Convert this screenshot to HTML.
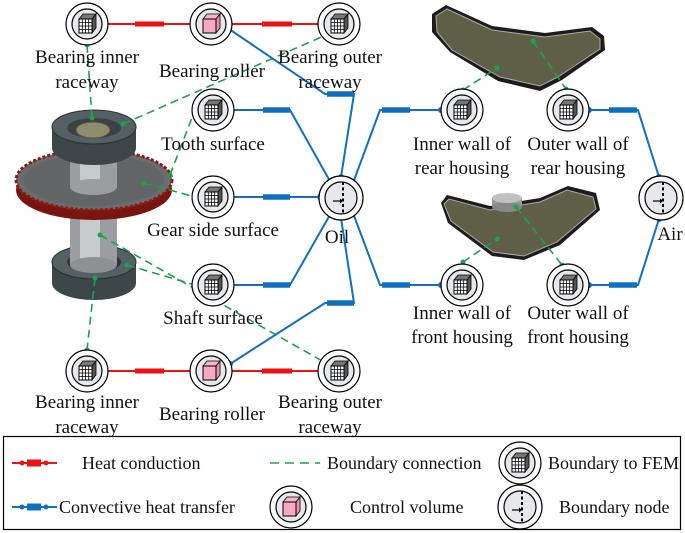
<!DOCTYPE html>
<html><head><meta charset="utf-8"><style>
body{margin:0;background:#fff;}
svg{display:block;}
text{font-family:"Liberation Serif",serif;font-size:19px;fill:#111;}
.lg text{font-size:18px;}
</style></head><body>
<svg width="685" height="533" viewBox="0 0 685 533" xmlns="http://www.w3.org/2000/svg">
<defs>
<g id="fem">
  <circle r="21" fill="#fff" stroke="#000" stroke-width="1.2"/>
  <circle r="15" fill="#e6e9ec" stroke="#000" stroke-width="1.2"/>
  <polygon points="-8,-5 -4,-10 9,-10 5,-5" fill="#777" stroke="#000" stroke-width="0.8"/>
  <polygon points="5,-5 9,-10 9,4 5,9" fill="#555" stroke="#000" stroke-width="0.8"/>
  <rect x="-8" y="-5" width="13" height="14" fill="#fff" stroke="#000" stroke-width="1"/>
  <path d="M-8,-1.5H5M-8,2H5M-8,5.5H5M-4.7,-5V9M-1.5,-5V9M1.7,-5V9" stroke="#000" stroke-width="0.8"/>
</g>
<g id="cv">
  <circle r="21" fill="#fff" stroke="#000" stroke-width="1.2"/>
  <circle r="15" fill="#e6e9ec" stroke="#000" stroke-width="1.2"/>
  <polygon points="-8,-5 -4,-10 9,-10 5,-5" fill="#f4b8c8" stroke="#000" stroke-width="0.8"/>
  <polygon points="5,-5 9,-10 9,4 5,9" fill="#e890a8" stroke="#000" stroke-width="0.8"/>
  <rect x="-8" y="-5" width="13" height="14" fill="#f6a9bf" stroke="#000" stroke-width="1"/>
</g>
<g id="bn">
  <circle r="22" fill="#fff" stroke="#000" stroke-width="1.2"/>
  <circle r="16" fill="#e6e9ec" stroke="#000" stroke-width="1.2"/>
  <line x1="2" y1="-16" x2="2" y2="16" stroke="#000" stroke-width="2" stroke-dasharray="3,2.5"/>
  <line x1="-8" y1="3" x2="-1" y2="3" stroke="#000" stroke-width="1.2"/>
  <polygon points="-1,0.5 2,3 -1,5.5" fill="#000"/>
</g>
</defs>

<!-- gear assembly -->
<g>
  <path d="M52,262 V283 A42,17 0 0 0 136,283 V262 Z" fill="#3d4648"/>
  <ellipse cx="94" cy="262" rx="42" ry="17" fill="#556064" stroke="#2a3133"/>
  <ellipse cx="94" cy="262" rx="27" ry="10" fill="#2e3537"/>
  <rect x="70" y="200" width="47" height="65" fill="#9a9ea0"/>
  <rect x="80" y="200" width="20" height="65" fill="#c8cbcc"/>
  <ellipse cx="93.5" cy="265" rx="23.5" ry="8" fill="#8d9193"/>
  <ellipse cx="94" cy="190" rx="78" ry="30" fill="#7a1410"/>
  <ellipse cx="94" cy="180" rx="78" ry="30" fill="#6a6d6e" stroke="#8b1a14" stroke-width="3" stroke-dasharray="3,2"/>
  <ellipse cx="94" cy="180" rx="70" ry="26" fill="#636667"/>
  <rect x="70" y="145" width="47" height="42" fill="#9a9ea0"/>
  <rect x="80" y="145" width="20" height="42" fill="#c8cbcc"/>
  <ellipse cx="93.5" cy="187" rx="23.5" ry="8" fill="#9a9ea0"/>
  <path d="M52,127 V148 A42,17 0 0 0 136,148 V127 Z" fill="#3d4648"/>
  <ellipse cx="94" cy="127" rx="42" ry="17" fill="#556064" stroke="#2a3133"/>
  <ellipse cx="94" cy="128" rx="27" ry="10" fill="#3a4244"/>
  <ellipse cx="93" cy="130" rx="17" ry="8" fill="#8e8c6c" stroke="#565438"/>
</g>

<!-- housings -->
<path d="M432,14 L446,5 L492,26 L545,33 L592,27 L604,36 L605,50 L562,80 L540,91 L498,81 L450,52 L432,32 Z" fill="#1c1c1c"/>
<path d="M436,16 L447,9 L492,30 L545,37 L590,31 L600,39 L600,49 L558,77 L540,86 L500,77 L452,50 L437,32 Z" fill="#5f5f47" stroke="#aaa" stroke-width="1"/>
<path d="M441,203 L447,195 L490,206 L540,198 L568,186 L596,193 L600,210 L560,245 L524,260 L492,256 L448,223 Z" fill="#1c1c1c"/>
<path d="M444,204 L449,199 L490,210 L540,202 L567,190 L593,197 L596,209 L557,242 L524,256 L493,252 L451,221 Z" fill="#5f5f47" stroke="#aaa" stroke-width="1"/>
<rect x="492" y="198" width="30" height="9" fill="#999"/>
<ellipse cx="507" cy="207" rx="15" ry="5" fill="#888"/>
<ellipse cx="507" cy="198" rx="15" ry="5" fill="#c0c0c0"/>

<!-- green boundary connections -->
<g stroke="#1aa34a" stroke-width="1.6" stroke-dasharray="8,5" fill="none">
  <line x1="87" y1="45" x2="92" y2="118"/>
  <line x1="123" y1="124" x2="326" y2="35"/>
  <line x1="170" y1="175" x2="195" y2="110"/>
  <line x1="144" y1="183" x2="195" y2="197"/>
  <line x1="100" y1="235" x2="324" y2="362"/>
  <line x1="127" y1="265" x2="195" y2="285"/>
  <line x1="95" y1="278" x2="87" y2="350"/>
  <line x1="463" y1="90" x2="497" y2="68"/>
  <line x1="533" y1="41" x2="566" y2="89"/>
  <line x1="463" y1="262" x2="497" y2="239"/>
  <line x1="516" y1="207" x2="562" y2="265"/>
</g>
<g fill="#1aa34a">
  <circle cx="87" cy="45" r="2.5"/><circle cx="92" cy="118" r="2.5"/><circle cx="123" cy="124" r="2.5"/><circle cx="326" cy="35" r="2.5"/>
  <circle cx="170" cy="175" r="2.5"/><circle cx="195" cy="110" r="2.5"/><circle cx="144" cy="183" r="2.5"/><circle cx="195" cy="197" r="2.5"/>
  <circle cx="100" cy="235" r="2.5"/><circle cx="324" cy="362" r="2.5"/><circle cx="127" cy="265" r="2.5"/><circle cx="195" cy="285" r="2.5"/>
  <circle cx="95" cy="278" r="2.5"/><circle cx="87" cy="350" r="2.5"/>
  <circle cx="463" cy="90" r="2.5"/><circle cx="497" cy="68" r="2.5"/><circle cx="533" cy="41" r="2.5"/><circle cx="566" cy="89" r="2.5"/>
  <circle cx="463" cy="262" r="2.5"/><circle cx="497" cy="239" r="2.5"/><circle cx="516" cy="207" r="2.5"/><circle cx="562" cy="265" r="2.5"/>
</g>

<!-- red conduction -->
<g stroke="#ee1111" fill="none">
  <line x1="105" y1="24" x2="194" y2="24" stroke-width="2"/>
  <line x1="135" y1="24" x2="164" y2="24" stroke-width="5"/>
  <line x1="230" y1="24" x2="320" y2="24" stroke-width="2"/>
  <line x1="262" y1="24" x2="292" y2="24" stroke-width="5"/>
  <line x1="105" y1="371" x2="194" y2="371" stroke-width="2"/>
  <line x1="135" y1="371" x2="164" y2="371" stroke-width="5"/>
  <line x1="230" y1="371" x2="320" y2="371" stroke-width="2"/>
  <line x1="262" y1="371" x2="292" y2="371" stroke-width="5"/>
</g>
<g fill="#ee1111">
  <circle cx="105" cy="24" r="3"/><circle cx="194" cy="24" r="3"/><circle cx="230" cy="24" r="3"/><circle cx="320" cy="24" r="3"/>
  <circle cx="105" cy="371" r="3"/><circle cx="194" cy="371" r="3"/><circle cx="230" cy="371" r="3"/><circle cx="320" cy="371" r="3"/>
</g>

<!-- blue convective -->
<g stroke="#1070c0" fill="none" stroke-width="2">
  <polyline points="229,29 325,94 354,94 341,177"/>
  <polyline points="231,110 290,110 331,183"/>
  <polyline points="231,197 320,197"/>
  <polyline points="231,285 290,285 331,213"/>
  <polyline points="230,364 325,303 354,303 341,218"/>
  <polyline points="353,183 380,110 441,110"/>
  <polyline points="353,213 380,285 441,285"/>
  <polyline points="589,110 638,110 659,177"/>
  <polyline points="589,285 638,285 659,219"/>
</g>
<g stroke="#1070c0" stroke-width="5.5">
  <line x1="327" y1="94" x2="354" y2="94"/>
  <line x1="263" y1="110" x2="290" y2="110"/>
  <line x1="263" y1="197" x2="290" y2="197"/>
  <line x1="263" y1="285" x2="290" y2="285"/>
  <line x1="327" y1="303" x2="354" y2="303"/>
  <line x1="382" y1="110" x2="410" y2="110"/>
  <line x1="382" y1="285" x2="410" y2="285"/>
  <line x1="609" y1="110" x2="637" y2="110"/>
  <line x1="609" y1="285" x2="637" y2="285"/>
</g>
<g fill="#1070c0">
  <circle cx="229" cy="29" r="3"/><circle cx="231" cy="110" r="3"/><circle cx="231" cy="197" r="3"/><circle cx="231" cy="285" r="3"/><circle cx="230" cy="364" r="3"/>
  <circle cx="331" cy="183" r="3"/><circle cx="341" cy="177" r="3"/><circle cx="320" cy="197" r="3"/><circle cx="331" cy="213" r="3"/><circle cx="341" cy="218" r="3"/>
  <circle cx="353" cy="183" r="3"/><circle cx="353" cy="213" r="3"/><circle cx="441" cy="110" r="3"/><circle cx="441" cy="285" r="3"/>
  <circle cx="589" cy="110" r="3"/><circle cx="589" cy="285" r="3"/><circle cx="659" cy="177" r="3"/><circle cx="659" cy="219" r="3"/>
</g>

<!-- nodes -->
<use href="#fem" x="87" y="24"/>
<use href="#cv" x="211" y="24"/>
<use href="#fem" x="339" y="24"/>
<use href="#fem" x="213" y="110"/>
<use href="#fem" x="213" y="197"/>
<use href="#fem" x="213" y="285"/>
<use href="#fem" x="87" y="371"/>
<use href="#cv" x="211" y="371"/>
<use href="#fem" x="339" y="371"/>
<use href="#bn" x="341" y="198"/>
<use href="#fem" x="462" y="110"/>
<use href="#fem" x="568" y="110"/>
<use href="#fem" x="462" y="285"/>
<use href="#fem" x="568" y="285"/>
<use href="#bn" x="661" y="198"/>

<!-- labels -->
<g text-anchor="middle">
  <text x="87" y="63">Bearing inner</text><text x="87" y="88">raceway</text>
  <text x="212" y="77">Bearing roller</text>
  <text x="330" y="63">Bearing outer</text><text x="330" y="88">raceway</text>
  <text x="213" y="150">Tooth surface</text>
  <text x="213" y="236">Gear side surface</text>
  <text x="213" y="324">Shaft surface</text>
  <text x="337" y="243">Oil</text>
  <text x="462" y="150">Inner wall of</text><text x="462" y="174">rear housing</text>
  <text x="578" y="150">Outer wall of</text><text x="578" y="174">rear housing</text>
  <text x="670" y="240">Air</text>
  <text x="462" y="319">Inner wall of</text><text x="462" y="343">front housing</text>
  <text x="578" y="319">Outer wall of</text><text x="578" y="343">front housing</text>
  <text x="87" y="408">Bearing inner</text><text x="87" y="433">raceway</text>
  <text x="212" y="420">Bearing roller</text>
  <text x="330" y="408">Bearing outer</text><text x="330" y="433">raceway</text>
</g>

<!-- legend -->
<g class="lg">
<rect x="3.5" y="436.5" width="677" height="93" fill="none" stroke="#000" stroke-width="1.2"/>
<g stroke="#ee1111"><line x1="12" y1="463" x2="57" y2="463" stroke-width="2"/><line x1="27" y1="463" x2="41" y2="463" stroke-width="7"/></g>
<circle cx="22" cy="463" r="2.5" fill="#ee1111"/><circle cx="46" cy="463" r="2.5" fill="#ee1111"/>
<text x="82" y="469">Heat conduction</text>
<line x1="270" y1="463" x2="320" y2="463" stroke="#1aa34a" stroke-width="1.6" stroke-dasharray="9,6"/>
<text x="327" y="469">Boundary connection</text>
<use href="#fem" x="520" y="463"/>
<text x="548" y="469">Boundary to FEM</text>
<g stroke="#1070c0"><line x1="12" y1="507" x2="57" y2="507" stroke-width="2"/><line x1="27" y1="507" x2="41" y2="507" stroke-width="7"/></g>
<circle cx="22" cy="507" r="2.5" fill="#1070c0"/><circle cx="46" cy="507" r="2.5" fill="#1070c0"/>
<text x="59" y="513">Convective heat transfer</text>
<use href="#cv" x="291" y="507"/>
<text x="350" y="513">Control volume</text>
<use href="#bn" x="520" y="507"/>
<text x="559" y="513">Boundary node</text>
</g>
</svg>
</body></html>
